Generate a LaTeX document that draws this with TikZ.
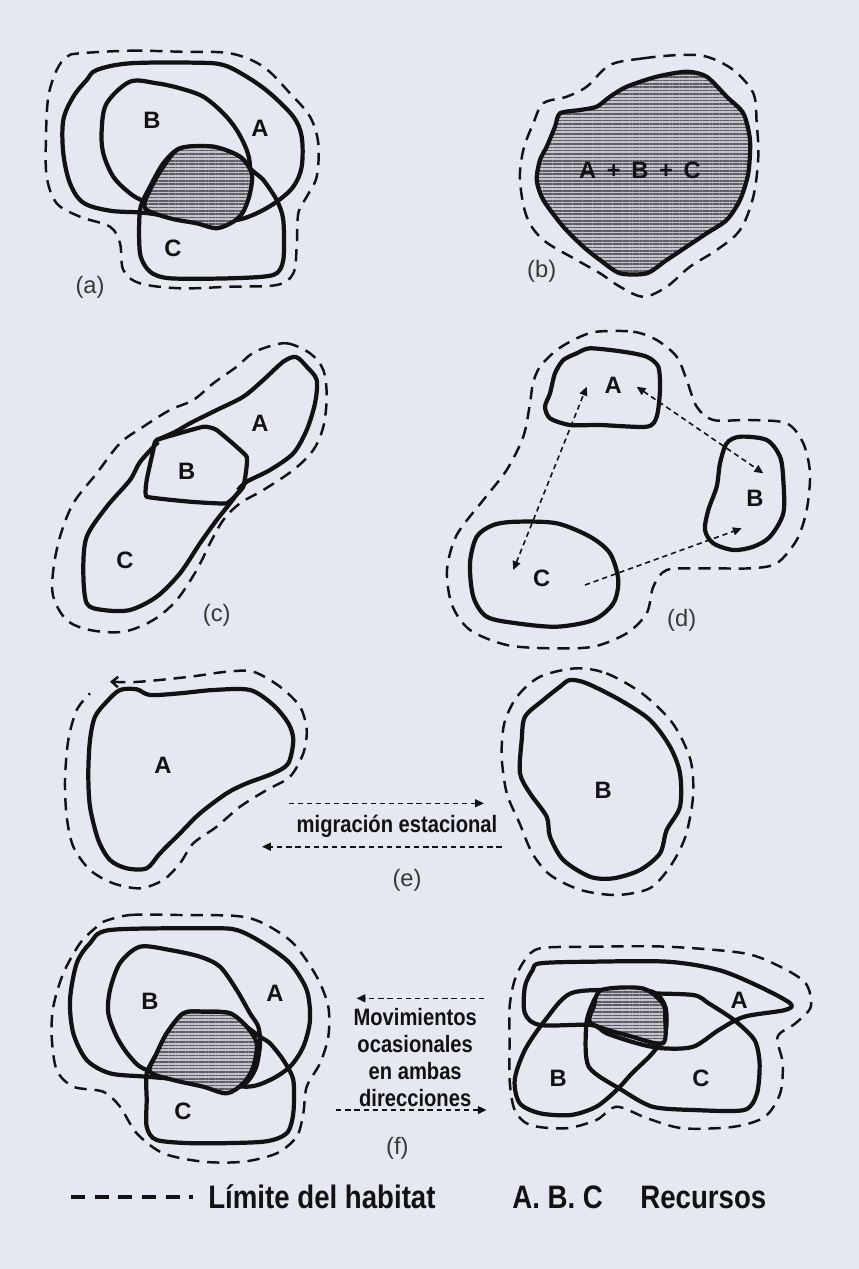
\documentclass[tikz,border=0pt]{standalone}
\usepackage{fontspec}
\setmainfont{Liberation Sans}
\newfontfamily\narrowfont[FakeStretch=0.85]{Liberation Sans}
\usetikzlibrary{arrows.meta,patterns.meta}
\definecolor{bg}{RGB}{229,231,241}
\definecolor{ink}{RGB}{18,18,20}
\definecolor{hatchbg}{RGB}{196,194,202}
\definecolor{hatchfg}{RGB}{92,90,98}
\tikzset{
  res/.style={draw=ink, line width=2.4pt, line join=round},
  hab/.style={draw=ink, line width=1.4pt, dash pattern=on 7pt off 4.5pt},
  core/.style={draw=ink, line width=2.4pt, line join=round, preaction={fill=hatchbg},
     pattern={Lines[angle=0,distance=1.9pt,line width=0.9pt]}, pattern color=hatchfg},
  lbl/.style={font=\bfseries\fontsize{13.5}{15}\selectfont, text=ink, inner sep=0pt},
  panelcap/.style={font=\fontsize{13.5}{15}\selectfont, text=black!78, inner sep=0pt},
  mv/.style={draw=ink, line width=0.9pt, dash pattern=on 3pt off 2.2pt},
  tip/.style={-{Triangle[length=5pt,width=4.5pt]}},
  tips/.style={{Triangle[length=5pt,width=4.5pt]}-{Triangle[length=5pt,width=4.5pt]}},
  mvtxt/.style={font=\narrowfont\bfseries\fontsize{13.5}{15.5}\selectfont, text=ink, inner sep=0pt, align=center},
  legtxt/.style={font=\narrowfont\bfseries\fontsize{18.5}{20}\selectfont, text=ink, inner sep=0pt, anchor=west},
}
\begin{document}
\begin{tikzpicture}[x=0.02cm,y=-0.02cm]
\useasboundingbox (0,0) rectangle (859,1269);
\fill[bg] (0,0) rectangle (859,1269);

% ---------------- (a)
\draw[hab] plot[smooth cycle,tension=0.55] coordinates {(80,53.3) (130,50.7) (180,51.7) (230,53.3) (263.3,66.7) (290,93.3) (310,116.7) (318.3,143.3) (316.7,176.7) (306.7,196.7) (298.3,213.3) (296.7,246.7) (293.3,273.3) (276.7,285) (230,286.7) (180,288.3) (140,283.3) (123.3,270) (120,243.3) (110,226.7) (80,216.7) (56.7,203.3) (46.7,176.7) (46,136.7) (48.3,96.7) (56.7,70) (66.7,56.7)};
\draw[res] plot[smooth cycle,tension=0.55] coordinates {(96.7,70) (130,63.3) (196.7,62.7) (223.3,65) (246.7,76.7) (270,93.3) (293.3,116.7) (301.7,136.7) (301.7,166.7) (293.3,186.7) (276.7,201.7) (256.7,213.3) (236.7,220) (210,220.7) (176.7,217.3) (143.3,212.7) (110,210.7) (83.3,202.7) (70,183.3) (63.3,153.3) (63.3,120) (73.3,96.7) (86.7,80)};
\draw[res] plot[smooth cycle,tension=0.55] coordinates {(130,81.7) (156.7,83.3) (180,88.3) (203.3,96.7) (223.3,113.3) (236.7,130) (246.7,150) (250,166.7) (248,192) (238,214) (215,224) (185,218) (145,201.7) (130,193.3) (113.3,176.7) (103.3,153.3) (101.7,130) (106.7,103.3)};
\draw[res] plot[smooth cycle,tension=0.45] coordinates {(140,210) (150,186.7) (163.3,163.3) (180,148.3) (213.3,146.7) (240,156.7) (251.7,170) (263.3,180) (276.7,200) (283.3,220) (283.3,260) (273.3,275) (230,278.3) (170,278.3) (150,271.7) (140,253.3)};
\draw[core] plot[smooth cycle,tension=0.5] coordinates {(145,208.3) (150,190) (163.3,166.7) (180,148.3) (213.3,146.7) (240,156.7) (251.7,173.3) (250,193.3) (243.3,211.7) (233.3,221.7) (216.7,228.3) (196.7,223.3) (170,218.3)};
\node[lbl] (aB) at (152,120) {B};
\node[lbl] (aA) at (260,128) {A};
\node[lbl] (aC) at (173,248) {C};
\node[panelcap] (acap) at (90,287) {(a)};

% ---------------- (b)
\draw[hab] plot[smooth cycle,tension=0.55] coordinates {(610,65) (643.3,58.3) (680,55) (706.7,56.7) (733.3,70) (753.3,93.3) (756.7,123.3) (758.3,156.7) (753.3,196.7) (740,230) (716.7,250) (690,266.7) (666.7,286.7) (643.3,296.7) (620,286.7) (600,273.3) (576.7,260) (543.3,240) (526.7,216.7) (520,180) (523.3,150) (533.3,123.3) (543.3,103.3) (566.7,96.7) (586.7,86.7)};
\draw[core] plot[smooth cycle,tension=0.45] coordinates {(626.7,86.7) (656.7,76.7) (686.7,71.7) (706.7,76.7) (726.7,96.7) (743.3,113.3) (750,140) (748.3,173.3) (740,200) (726.7,220) (706.7,233.3) (686.7,246.7) (666.7,260) (646.7,273.3) (620,273.3) (600,260) (583.3,246.7) (563.3,226.7) (543.3,200) (536.7,180) (540,160) (546.7,146.7) (555,126.7) (560,113.3) (580,110) (596.7,106.7) (610,96.7)};
\node[lbl] (bABC) at (640,170) {A\hspace{.45em}+\hspace{.45em}B\hspace{.45em}+\hspace{.45em}C};
\node[panelcap] (bcap) at (541.7,271.7) {(b)};

% ---------------- (c)
\draw[hab] plot[smooth cycle,tension=0.55] coordinates {(263.3,348.3) (286.7,343.3) (310,353.3) (323.3,370) (326.7,396.7) (323.3,426.7) (313.3,450) (293.3,470) (263.3,490) (240,503.3) (223.3,520) (210,543.3) (196.7,570) (176.7,600) (153.3,620) (123.3,631.7) (90,630) (66.7,620) (53.3,596.7) (53.3,570) (60,536.7) (73.3,503.3) (96.7,473.3) (120,443.3) (143.3,426.7) (170,410) (193.3,400) (213.3,383.3) (236.7,366.7) (250,355)};
\draw[res] plot[smooth,tension=0.5] coordinates {(156.7,440) (175,432) (190,423.3) (216.7,410) (243.3,396.7) (263.3,380) (283.3,361.7) (296,357) (306.7,366.7) (316.7,380) (315,403.3) (306.7,430) (293.3,453.3) (270,470) (246.7,481.7) (238,490)};
\draw[res] plot[smooth cycle,tension=0.2] coordinates {(156.7,440) (203.3,426.7) (216.7,430) (246.7,456.7) (243.3,486.7) (226.7,503.3) (190,501.7) (146.7,496.7) (146.7,480) (153.3,450)};
\draw[res] plot[smooth,tension=0.5] coordinates {(158,442) (140,462) (130,480) (106.7,506.7) (86.7,536.7) (83.3,570) (86.7,603.3) (103.3,610) (130,610) (156.7,596.7) (180,573.3) (200,543.3) (216.7,520) (230,503.3) (240,490)};
\node[lbl] (cA) at (260,423.3) {A};
\node[lbl] (cB) at (186.7,471.7) {B};
\node[lbl] (cC) at (125,560) {C};
\node[panelcap] (ccap) at (216.7,615) {(c)};

% ---------------- (d)
\draw[hab] plot[smooth cycle,tension=0.5] coordinates {(596.7,331.7) (633.3,331.7) (656.7,340) (676.7,356.7) (686.7,380) (696.7,406.7) (713.3,420) (750,420) (786.7,423.3) (803.3,443.3) (810,473.3) (806.7,510) (796.7,540) (776.7,563.3) (750,568.3) (703.3,568.3) (666.7,570) (653.3,586.7) (646.7,613.3) (626.7,633.3) (593.3,646.7) (550,648.3) (506.7,645) (470,630) (452,605) (447,570) (456.7,535) (483.3,500) (506.7,470) (523.3,436.7) (530,403.3) (533,383) (540,366.7) (556.7,350) (576.7,338.3)};
\draw[res] plot[smooth cycle,tension=0.45] coordinates {(590,348.3) (623.3,351.7) (646.7,356.7) (658.3,366.7) (660,390) (656.7,416.7) (646.7,426.7) (600,425) (570,425) (550,418.3) (545,406.7) (550,393.3) (555,373.3) (563.3,360) (576.7,353.3)};
\draw[res] plot[smooth cycle,tension=0.5] coordinates {(740,436.7) (766.7,440) (780,456.7) (783.3,480) (783.3,513.3) (770,536.7) (753.3,546.7) (733.3,550) (713.3,543.3) (705,530) (708.3,510) (716.7,486.7) (720,463.3) (726.7,443.3)};
\draw[res] plot[smooth cycle,tension=0.5] coordinates {(516.7,521.7) (556.7,523.3) (590,536.7) (610,553.3) (618.3,580) (613.3,603.3) (593.3,620) (556.7,626.7) (516.7,623.3) (486.7,616.7) (473.3,596.7) (470,563.3) (476.7,536.7) (493.3,525)};
\node[lbl] (dA) at (613.3,385) {A};
\node[lbl] (dB) at (755,498.3) {B};
\node[lbl] (dC) at (541.7,578.3) {C};
\node[panelcap] (dcap) at (681.7,620) {(d)};
\coordinate (dA1) at (586.7,386.7);
\coordinate (dC1) at (513.3,570);
\coordinate (dA2) at (636.7,386.7);
\coordinate (dB2) at (763.3,473.3);
\coordinate (dC3) at (585,585);
\coordinate (dB3) at (741.7,528.3);
\draw[mv,tips] (dC1) -- (dA1);
\draw[mv,tips] (dA2) -- (dB2);
\draw[mv,tip] (dC3) -- (dB3);

% ---------------- (e)
\draw[hab,{Straight Barb[length=3.5pt,width=6pt]}-] plot[smooth,tension=0.5] coordinates {(110,681.7) (140,681.7) (190,676.7) (226.7,671.7) (253.3,671.7) (280,686.7) (300,706.7) (306.7,730) (303.3,753.3) (290,776.7) (266.7,790) (240,806.7) (216.7,826.7) (193.3,843.3) (180,863.3) (163.3,880) (140,888.3) (113.3,883.3) (90,870) (73.3,846.7) (66.7,816.7) (65,780) (68.3,740) (76.7,710) (90,693.3)};
\draw[res] plot[smooth cycle,tension=0.5] coordinates {(120,690) (136.7,689.3) (150,695) (180,693.3) (213.3,690) (250,690) (273.3,705) (288.3,723.3) (293.3,740) (288.3,763.3) (273.3,773.3) (246.7,783.3) (226.7,793.3) (200,813.3) (180,833.3) (160,853.3) (146.7,868.3) (126.7,868.3) (110,860) (98.3,840) (90,806.7) (88.3,773.3) (90,740) (95,716.7) (106.7,701.7)};
\draw[hab] plot[smooth cycle,tension=0.5] coordinates {(575.7,668.3) (606.3,673.3) (642,693.3) (672.7,723.3) (690.5,760) (693,796.7) (685.4,836.7) (670,866.7) (649.7,888.3) (616.5,895) (580.8,890) (550.2,875) (532.3,853.3) (519.6,823.3) (506.8,793.3) (501.7,756.7) (504.3,723.3) (517,696.7) (540,676.7)};
\draw[res] plot[smooth cycle,tension=0.5] coordinates {(570,680) (586.7,683.3) (620,700) (650,720) (670,746.7) (680,773.3) (680,806.7) (666.7,830) (660,853.3) (640,870) (613.3,878.3) (590,876.7) (563.3,860) (550,836.7) (546.7,816.7) (530,793.3) (520,773.3) (521.7,740) (525,716.7) (543.3,700) (560,686.7)};
\node[lbl] (eA) at (163,765) {A};
\node[lbl] (eB) at (603.3,790) {B};
\node[mvtxt] (etxt) at (397,826.7) {migración estacional};
\node[panelcap] (ecap) at (407,880) {(e)};
\coordinate (e1s) at (288.5,803.3);
\coordinate (e1e) at (483.9,803.3);
\coordinate (e2s) at (501.7,846.7);
\coordinate (e2e) at (262,846.7);
\draw[mv,tip] (e1s) -- (e1e);
\draw[mv,tip] (e2s) -- (e2e);

% ---------------- (f) left
\draw[hab] plot[smooth cycle,tension=0.5] coordinates {(103.3,921.7) (130,915) (180,915) (236.7,916) (263.3,923.3) (293.3,943.3) (316.7,976.7) (328.3,1006.7) (328.3,1036.7) (320,1063.3) (306.7,1086.7) (303.3,1113.3) (296.7,1136.7) (276.7,1153.3) (243.3,1161.7) (203.3,1161.7) (163.3,1153.3) (136.7,1133.3) (120,1106.7) (103.3,1091.7) (73.3,1086.7) (56.7,1070) (51.7,1036.7) (53.3,1006.7) (63.3,973.3) (80,943.3) (96.7,926.7)};
\draw[res] plot[smooth cycle,tension=0.5] coordinates {(110,930) (206.7,928.3) (236.7,930) (263.3,943.3) (290,963.3) (306.7,990) (310,1020) (303.3,1046.7) (290,1066.7) (270,1080) (246.7,1086.7) (200,1081) (146.7,1076.7) (110,1073.3) (86.7,1060) (73.3,1033.3) (70,1000) (76.7,963.3) (90,943.3)};
\draw[res] plot[smooth cycle,tension=0.5] coordinates {(140,946.7) (170,950) (200,956.7) (220,966.7) (236.7,990) (250,1013.3) (258.3,1026.7) (260,1045) (255,1070) (240,1086) (200,1084) (146.7,1070) (130,1056.7) (116.7,1036.7) (108.3,1013.3) (110,990) (120,963)};
\draw[res] plot[smooth cycle,tension=0.45] coordinates {(146.7,1073.3) (156.7,1053.3) (166.7,1033.3) (183.3,1013.3) (203.3,1011.7) (230,1013.3) (246.7,1026.7) (260,1036.7) (270,1043.3) (283.3,1060) (293.3,1080) (293.3,1113.3) (286.7,1133.3) (263.3,1141.7) (196.7,1143.3) (156.7,1140) (146.7,1126.7) (146.7,1100)};
\draw[core] plot[smooth cycle,tension=0.5] coordinates {(183.3,1013.3) (203.3,1011.7) (230,1013.3) (246.7,1026.7) (256.7,1043.3) (253.3,1066.7) (243.3,1083.3) (226.7,1093.3) (203.3,1086.7) (173.3,1080) (150,1071.7) (156.7,1053.3) (166.7,1033.3)};
\node[lbl] (fB) at (150,1001.7) {B};
\node[lbl] (fA) at (275,993.3) {A};
\node[lbl] (fC) at (183,1111.7) {C};

% ---------------- (f) middle
\node[mvtxt] (ftxt) at (415.2,1057.5) {Movimientos\\ocasionales\\en ambas\\direcciones};
\node[panelcap] (fcap) at (397.3,1148.3) {(f)};
\coordinate (f1s) at (484.1,998.3);
\coordinate (f1e) at (356.5,998.3);
\coordinate (f2s) at (336.1,1110);
\coordinate (f2e) at (486.6,1110);
\draw[mv,tip] (f1s) -- (f1e);
\draw[mv,tip] (f2s) -- (f2e);

% ---------------- (f) right
\draw[hab] plot[smooth cycle,tension=0.5] coordinates {(540.2,948.3) (591.2,946.7) (667.7,946.7) (744.3,953.3) (780.2,966.7) (805.7,983.3) (810.8,1006.7) (795.5,1023.3) (777.6,1036.7) (782.7,1063.3) (780.2,1093.3) (764.9,1116.7) (734.1,1126.7) (683,1128.3) (647.3,1118.3) (616.7,1106.7) (596.3,1120) (565.7,1128.3) (530,1125) (514.7,1110) (509.6,1080) (509.6,1040) (509.6,1006.7) (514.7,980) (524.9,960)};
\draw[res] plot[smooth cycle,tension=0.5] coordinates {(540.2,963.3) (591.2,961.7) (667.7,961.7) (718.8,970) (759.6,986.7) (790.2,1003.3) (785.1,1010) (744.3,1016.7) (718.8,1030) (693.3,1046.7) (662.7,1048.3) (637.1,1043.3) (606.5,1033.3) (591.2,1025) (540.2,1025) (524.9,1013.3) (524.9,986.7) (532.6,970)};
\draw[res] plot[smooth cycle,tension=0.5] coordinates {(570.8,993.3) (616.7,990) (652.4,991.7) (665.3,1006.7) (665.3,1033.3) (652.4,1053.3) (632,1073.3) (616.7,1090) (596.3,1106.7) (570.8,1115) (540.2,1113.3) (519.8,1103.3) (514.7,1080) (524.9,1050) (545.3,1020)};
\draw[res] plot[smooth cycle,tension=0.45] coordinates {(601.4,993.3) (642.2,993.3) (693.3,995) (708.6,1003.3) (734.1,1020) (754.5,1040) (759.6,1063.3) (757,1093.3) (744.3,1110) (693.3,1110) (652.4,1106.7) (621.8,1090) (588.7,1066.7) (586.1,1026.7) (591.2,1006.7)};
\draw[core] plot[smooth cycle,tension=0.5] coordinates {(601.4,990) (642.2,988.3) (662.7,1003.3) (665.3,1020) (662.7,1043.3) (632,1036.7) (591.2,1023.3) (593.8,1006.7)};
\node[lbl] (gA) at (739.2,1000) {A};
\node[lbl] (gB) at (558.1,1078.3) {B};
\node[lbl] (gC) at (700.9,1078.3) {C};

% ---------------- legend
\coordinate (l1) at (70.8,1197);
\coordinate (l2) at (193.3,1197);
\draw[draw=ink, line width=1.9pt, dash pattern=on 8pt off 5.5pt] (l1) -- (l2);
\node[legtxt] (lt1) at (208,1197) {Límite del habitat};
\node[legtxt] (lt2) at (512,1197) {A. B. C};
\node[legtxt] (lt3) at (640,1197) {Recursos};
\end{tikzpicture}
\end{document}
